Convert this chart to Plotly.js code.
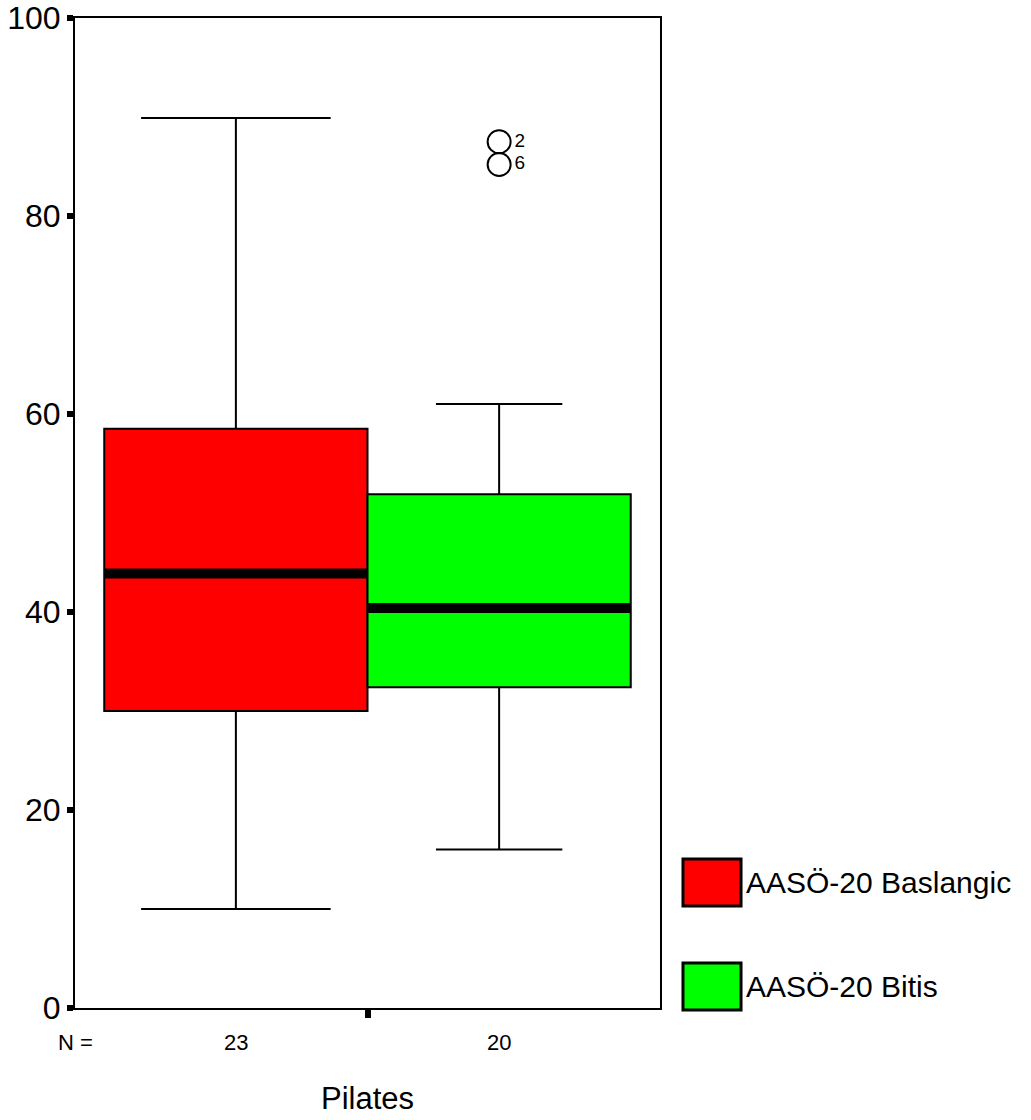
<!DOCTYPE html>
<html>
<head>
<meta charset="utf-8">
<script src="https://cdn.plot.ly/plotly-3.0.1.min.js"></script>
<style>
  html, body { margin: 0; padding: 0; background: #ffffff; }
  #chart { width: 1031px; height: 1120px; }
</style>
</head>
<body>
<div id="chart"></div>
<script>
// ---- data ----
const seriesNames = ['AASÖ-20 Baslangic', 'AASÖ-20 Bitis'];
const q1Values = [30.0, 32.4];
const medianValues = [43.9, 40.4];
const q3Values = [58.5, 51.9];
const lowerWhiskers = [10.0, 16.0];
const upperWhiskers = [89.9, 61.0];
const nCounts = [23, 20];
const outlierValues = [87.5, 85.2];
const outlierCases = ['2', '6'];
const yTickValues = [0, 20, 40, 60, 80, 100];
const groupLabel = 'Pilates';

// ---- styles ----
const fillColors = ['#ff0000', '#00ff00'];
const capWidths = [0.72, 0.48];
const FONT = '"Liberation Sans", Arial, sans-serif';
const boxHalf = 0.225;               // each box is 0.45 wide in group mode
const centers = [-boxHalf, boxHalf];

const traces = seriesNames.map((name, i) => ({
  type: 'box',
  name: name,
  x: [0],
  q1: [q1Values[i]],
  median: [medianValues[i]],
  q3: [q3Values[i]],
  lowerfence: [lowerWhiskers[i]],
  upperfence: [upperWhiskers[i]],
  fillcolor: fillColors[i],
  line: { color: '#000000', width: 2 },
  whiskerwidth: capWidths[i],
  boxpoints: false,
  hoverinfo: 'skip',
  showlegend: false
}));

traces.push({
  type: 'scatter',
  mode: 'markers+text',
  x: outlierValues.map(() => centers[1]),
  y: outlierValues,
  text: outlierCases,
  textposition: 'middle right',
  textfont: { family: FONT, size: 19, color: '#000000' },
  marker: { symbol: 'circle-open', size: 23, color: '#000000', line: { width: 2, color: '#000000' } },
  cliponaxis: false,
  hoverinfo: 'skip',
  showlegend: false
});

const shapes = [];
// thick median bars
medianValues.forEach((m, i) => {
  shapes.push({
    type: 'line', xref: 'x', yref: 'y',
    x0: centers[i] - boxHalf, x1: centers[i] + boxHalf, y0: m, y1: m,
    line: { color: '#000000', width: 10 }
  });
});

// manual legend
const legendRowsY = [[0.103, 0.1505], [-0.002, 0.0455]];
const annotations = [];
seriesNames.forEach((name, i) => {
  shapes.push({
    type: 'rect', xref: 'paper', yref: 'paper',
    x0: 1.0393, x1: 1.1385, y0: legendRowsY[i][0], y1: legendRowsY[i][1],
    fillcolor: fillColors[i], line: { color: '#000000', width: 3 }
  });
  annotations.push({
    xref: 'paper', yref: 'paper', x: 1.143, y: (legendRowsY[i][0] + legendRowsY[i][1]) / 2,
    xanchor: 'left', yanchor: 'middle', showarrow: false,
    text: name, font: { family: FONT, size: 30, color: '#000000' }
  });
});

// N = counts under the axis
annotations.push({
  xref: 'x', yref: 'paper', x: -0.5, y: -0.035, xanchor: 'center', yanchor: 'middle',
  showarrow: false, text: 'N =', font: { family: FONT, size: 22, color: '#000000' }
});
nCounts.forEach((n, i) => {
  annotations.push({
    xref: 'x', yref: 'paper', x: centers[i], y: -0.035, xanchor: 'center', yanchor: 'middle',
    showarrow: false, text: String(n), font: { family: FONT, size: 22, color: '#000000' }
  });
});

const layout = {
  width: 1031,
  height: 1120,
  margin: { l: 75, r: 371, t: 18, b: 112 },
  paper_bgcolor: '#ffffff',
  plot_bgcolor: '#ffffff',
  showlegend: false,
  boxmode: 'group',
  boxgap: 0.1,
  boxgroupgap: 0,
  font: { family: FONT, color: '#000000' },
  xaxis: {
    type: 'linear',
    range: [-0.5, 0.5],
    showgrid: false, zeroline: false,
    showline: true, linecolor: '#000000', linewidth: 2, mirror: true,
    tickvals: [0], ticks: 'outside', ticklen: 8, tickwidth: 6, tickcolor: '#000000',
    showticklabels: false,
    title: { text: groupLabel, font: { family: FONT, size: 31, color: '#000000' }, standoff: 70 }
  },
  yaxis: {
    range: [0, 100],
    showgrid: false, zeroline: false,
    showline: true, linecolor: '#000000', linewidth: 2, mirror: true,
    tickvals: yTickValues, ticks: 'outside', ticklen: 6, tickwidth: 6, tickcolor: '#000000',
    tickfont: { family: FONT, size: 32, color: '#000000' }
  },
  shapes: shapes,
  annotations: annotations
};

Plotly.newPlot('chart', traces, layout, { staticPlot: true, displayModeBar: false });
</script>
</body>
</html>
